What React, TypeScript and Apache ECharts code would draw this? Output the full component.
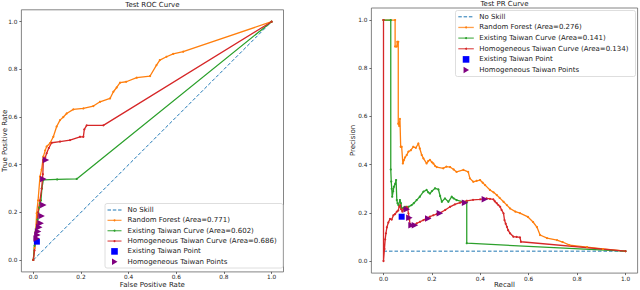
import React, { useEffect, useRef } from 'react';
import * as echarts from 'echarts';

const FONT = 'DejaVu Sans';

const tickValues = [0, 0.2, 0.4, 0.6, 0.8, 1.0];
const rocTitle = 'Test ROC Curve';
const prTitle = 'Test PR Curve';
const rocAxisNames = ['False Positive Rate', 'True Positive Rate'];
const prAxisNames = ['Recall', 'Precision'];

const rocLegendLabels = [
  'No Skill',
  'Random Forest (Area=0.771)',
  'Existing Taiwan Curve (Area=0.602)',
  'Homogeneous Taiwan Curve (Area=0.686)',
  'Existing Taiwan Point',
  'Homogeneous Taiwan Points',
];
const prLegendLabels = [
  'No Skill',
  'Random Forest (Area=0.276)',
  'Existing Taiwan Curve (Area=0.141)',
  'Homogeneous Taiwan Curve (Area=0.134)',
  'Existing Taiwan Point',
  'Homogeneous Taiwan Points',
];

// ROC data: [false positive rate, true positive rate]
const rocNoSkill = [[0, 0], [1, 1]];
const rocRandomForest = [
  [0, 0], [0.005, 0.05], [0.01, 0.12], [0.014, 0.196], [0.02, 0.25], [0.028, 0.35], [0.035, 0.38],
  [0.042, 0.434], [0.05, 0.46], [0.056, 0.476], [0.07, 0.49], [0.084, 0.517], [0.098, 0.56],
  [0.112, 0.587], [0.126, 0.6], [0.14, 0.615], [0.168, 0.632], [0.21, 0.636], [0.252, 0.646],
  [0.28, 0.664], [0.322, 0.678], [0.336, 0.706], [0.35, 0.724], [0.364, 0.744], [0.39, 0.748],
  [0.434, 0.765], [0.49, 0.772], [0.517, 0.818], [0.531, 0.839], [0.559, 0.853], [0.587, 0.865],
  [0.629, 0.874], [1, 1],
];
const rocExistingCurve = [
  [0, 0], [0.005, 0.06], [0.01, 0.12], [0.018, 0.17], [0.021, 0.2], [0.025, 0.22], [0.028, 0.238],
  [0.032, 0.25], [0.036, 0.3], [0.042, 0.336], [0.1, 0.338], [0.182, 0.34], [1, 1],
];
const rocHomogeneousCurve = [
  [0, 0], [0.005, 0.04], [0.01, 0.1], [0.015, 0.15], [0.02, 0.2], [0.028, 0.25], [0.035, 0.3],
  [0.04, 0.36], [0.042, 0.42], [0.05, 0.43], [0.056, 0.448], [0.065, 0.47], [0.077, 0.492],
  [0.112, 0.497], [0.154, 0.503], [0.196, 0.517], [0.21, 0.517], [0.214, 0.548], [0.224, 0.565],
  [0.294, 0.565], [1, 1],
];
const rocExistingPoint = [[0.015, 0.077]];
const rocHomogeneousPoints = [
  [0.053, 0.42], [0.042, 0.34], [0.042, 0.231], [0.035, 0.185], [0.031, 0.154], [0.025, 0.137],
  [0.02, 0.12], [0.017, 0.105], [0.014, 0.09],
];

// PR data: [recall, precision]
const prNoSkill = [[0, 0.041], [1, 0.041]];
const prRandomForest = [
  [0, 1], [0.048, 1], [0.048, 0.89], [0.055, 0.89], [0.057, 0.91], [0.061, 0.91], [0.061, 0.57],
  [0.065, 0.56], [0.068, 0.59], [0.071, 0.474], [0.075, 0.474], [0.08, 0.405], [0.085, 0.42],
  [0.089, 0.43], [0.096, 0.44], [0.103, 0.454], [0.113, 0.46], [0.123, 0.474], [0.134, 0.47],
  [0.144, 0.488], [0.15, 0.467], [0.158, 0.44], [0.165, 0.426], [0.178, 0.405], [0.185, 0.415],
  [0.192, 0.42], [0.2, 0.41], [0.206, 0.405], [0.213, 0.395], [0.22, 0.39], [0.247, 0.385],
  [0.26, 0.392], [0.275, 0.39], [0.29, 0.38], [0.302, 0.37], [0.33, 0.378], [0.35, 0.37],
  [0.357, 0.343], [0.371, 0.329], [0.385, 0.333], [0.399, 0.336], [0.41, 0.325], [0.42, 0.315],
  [0.44, 0.295], [0.455, 0.285], [0.468, 0.274], [0.48, 0.262], [0.496, 0.246], [0.51, 0.232],
  [0.523, 0.218], [0.545, 0.205], [0.564, 0.199], [0.597, 0.183], [0.618, 0.162], [0.634, 0.141],
  [0.647, 0.108], [0.676, 0.095], [0.717, 0.087], [0.74, 0.079], [0.769, 0.066], [0.841, 0.058],
  [0.907, 0.05], [1, 0.041],
];
const prExistingCurve = [
  [0, 1], [0.03, 1], [0.03, 0.38], [0.032, 0.33], [0.034, 0.3], [0.036, 0.267], [0.04, 0.29],
  [0.043, 0.308], [0.048, 0.32], [0.052, 0.336], [0.055, 0.253], [0.058, 0.24], [0.062, 0.232],
  [0.068, 0.253], [0.072, 0.24], [0.075, 0.219], [0.082, 0.22], [0.089, 0.225], [0.096, 0.215],
  [0.103, 0.225], [0.116, 0.232], [0.125, 0.24], [0.137, 0.253], [0.15, 0.267], [0.165, 0.288],
  [0.178, 0.295], [0.185, 0.285], [0.192, 0.28], [0.2, 0.29], [0.213, 0.302], [0.227, 0.297],
  [0.234, 0.27], [0.241, 0.246], [0.254, 0.26], [0.268, 0.246], [0.282, 0.267], [0.29, 0.26],
  [0.302, 0.253], [0.33, 0.246], [0.344, 0.246], [0.344, 0.074], [1, 0.041],
];
const prHomogeneousCurve = [
  [0, 1], [0, 0], [0.004, 0.05], [0.007, 0.09], [0.01, 0.115], [0.014, 0.14], [0.02, 0.16],
  [0.027, 0.175], [0.034, 0.172], [0.041, 0.19], [0.048, 0.195], [0.055, 0.205], [0.061, 0.21],
  [0.065, 0.225], [0.069, 0.232], [0.073, 0.215], [0.078, 0.205], [0.082, 0.215], [0.089, 0.212],
  [0.096, 0.225], [0.1, 0.218], [0.103, 0.198], [0.107, 0.172], [0.11, 0.152], [0.116, 0.147],
  [0.125, 0.148], [0.137, 0.156], [0.151, 0.163], [0.165, 0.17], [0.178, 0.177], [0.192, 0.184],
  [0.206, 0.19], [0.22, 0.195], [0.234, 0.2], [0.255, 0.212], [0.275, 0.225], [0.295, 0.235],
  [0.316, 0.242], [0.33, 0.247], [0.344, 0.25], [0.37, 0.254], [0.399, 0.256], [0.426, 0.26],
  [0.44, 0.258], [0.454, 0.256], [0.46, 0.248], [0.468, 0.24], [0.475, 0.232], [0.482, 0.225],
  [0.488, 0.212], [0.496, 0.198], [0.5, 0.17], [0.505, 0.155], [0.51, 0.142], [0.515, 0.128],
  [0.523, 0.115], [0.537, 0.101], [0.55, 0.1], [0.564, 0.098], [0.568, 0.08], [1, 0.041],
];
const prExistingPoint = [[0.075, 0.184]];
const prHomogeneousPoints = [
  [0.096, 0.215], [0.107, 0.18], [0.116, 0.149], [0.13, 0.149], [0.185, 0.177], [0.233, 0.198],
  [0.337, 0.242], [0.419, 0.256],
];

const COLORS = ['#1f77b4', '#ff7f0e', '#2ca02c', '#d62728', '#0000ff', '#800080'];
const TRI = 'path://M0,0L8.7,5L0,10Z';

function makeAxis(kind: 'x' | 'y', gridIndex: number) {
  return {
    type: 'value',
    gridIndex,
    min: -0.05,
    max: 1.05,
    axisLine: { show: false, onZero: false },
    axisTick: {
      show: true,
      inside: false,
      length: 2,
      customValues: tickValues,
      lineStyle: { color: '#444', width: 0.8 },
    },
    axisLabel: {
      show: true,
      customValues: tickValues,
      formatter: (v: number) => v.toFixed(1),
      fontSize: 5.8,
      fontFamily: FONT,
      color: '#222',
      margin: kind === 'y' ? 4 : 2.5,
      hideOverlap: false,
    },
    splitLine: { show: false },
  };
}

function lineSeries(name: string, data: number[][], idx: number, color: string, dashed = false) {
  return {
    type: 'line',
    name,
    xAxisIndex: idx,
    yAxisIndex: idx,
    data,
    symbol: dashed ? 'none' : 'circle',
    symbolSize: 2.2,
    showSymbol: !dashed,
    lineStyle: { color, width: dashed ? 1 : 1.3, type: dashed ? [3.5, 2] : 'solid' },
    itemStyle: { color },
    silent: true,
    z: 2,
  };
}

function scatterSeries(name: string, data: number[][], idx: number, color: string, symbol: string, size: number) {
  return {
    type: 'scatter',
    name,
    xAxisIndex: idx,
    yAxisIndex: idx,
    data,
    symbol,
    symbolSize: size,
    itemStyle: { color, opacity: 1 },
    silent: true,
    z: 3,
  };
}

function textEl(text: string, x: number, y: number, rotation = 0) {
  return {
    type: 'text', x, y, rotation, z: 100,
    style: { text, fontSize: 7, fontFamily: FONT, fill: '#222', align: 'center', verticalAlign: 'middle' },
  };
}

function makeLegend(bx: number, by: number, bw: number, bh: number, labels: string[], row0: number, pitch: number, hx: number, hw: number, tx: number) {
  const els: any[] = [];
  els.push({
    type: 'rect',
    z: 100,
    shape: { x: bx, y: by, width: bw, height: bh, r: 2 },
    style: { fill: 'rgba(255,255,255,0.85)', stroke: '#d6d6d6', lineWidth: 0.8 },
  });
  labels.forEach((label, i) => {
    const cy = row0 + i * pitch;
    const color = COLORS[i];
    const cx = hx + hw / 2;
    if (i === 0) {
      els.push({
        type: 'line', z: 101,
        shape: { x1: hx, y1: cy, x2: hx + hw, y2: cy },
        style: { stroke: color, lineWidth: 1, lineDash: [3.5, 1.8] },
      });
    } else if (i <= 3) {
      els.push({
        type: 'line', z: 101,
        shape: { x1: hx, y1: cy, x2: hx + hw, y2: cy },
        style: { stroke: color, lineWidth: 1.3, opacity: 0.75 },
      });
      els.push({
        type: 'circle', z: 102,
        shape: { cx, cy, r: 1 },
        style: { fill: color },
      });
    } else if (i === 4) {
      els.push({
        type: 'rect', z: 101,
        shape: { x: cx - 3.3, y: cy - 3.3, width: 6.6, height: 6.6 },
        style: { fill: color },
      });
    } else {
      els.push({
        type: 'polygon', z: 101,
        shape: { points: [[cx - 2.5, cy - 3.2], [cx + 3, cy], [cx - 2.5, cy + 3.2]] },
        style: { fill: color },
      });
    }
    els.push({
      type: 'text', z: 102,
      x: tx, y: cy,
      style: { text: label, fontSize: 7, fontFamily: FONT, fill: '#222', align: 'left', verticalAlign: 'middle' },
    });
  });
  return els;
}

export default function App() {
  const ref = useRef<HTMLDivElement>(null);
  useEffect(() => {
    if (!ref.current) return;
    const chart = echarts.init(ref.current, null, { renderer: 'svg' });
    const grids = [
      { left: 21.4, top: 9.8, width: 262.1, height: 262.1 },
      { left: 371.4, top: 8, width: 266.2, height: 265.1 },
    ].map((g) => ({
      ...g,
      show: true,
      borderColor: '#666',
      borderWidth: 0.8,
      backgroundColor: '#fff',
      containLabel: false,
      outerBoundsMode: 'none',
    }));

    const option: any = {
      animation: false,
      backgroundColor: '#fff',
      textStyle: { fontFamily: FONT },
      grid: grids,
      xAxis: [makeAxis('x', 0), makeAxis('x', 1)],
      yAxis: [makeAxis('y', 0), makeAxis('y', 1)],
      series: [
        lineSeries(rocLegendLabels[0], rocNoSkill, 0, COLORS[0], true),
        lineSeries(rocLegendLabels[1], rocRandomForest, 0, COLORS[1]),
        lineSeries(rocLegendLabels[2], rocExistingCurve, 0, COLORS[2]),
        lineSeries(rocLegendLabels[3], rocHomogeneousCurve, 0, COLORS[3]),
        scatterSeries(rocLegendLabels[4], rocExistingPoint, 0, COLORS[4], 'rect', 6),
        scatterSeries(rocLegendLabels[5], rocHomogeneousPoints, 0, COLORS[5], TRI, 6.5),
        lineSeries(prLegendLabels[0], prNoSkill, 1, COLORS[0], true),
        lineSeries(prLegendLabels[1], prRandomForest, 1, COLORS[1]),
        lineSeries(prLegendLabels[2], prExistingCurve, 1, COLORS[2]),
        lineSeries(prLegendLabels[3], prHomogeneousCurve, 1, COLORS[3]),
        scatterSeries(prLegendLabels[4], prExistingPoint, 1, COLORS[4], 'rect', 6),
        scatterSeries(prLegendLabels[5], prHomogeneousPoints, 1, COLORS[5], TRI, 6.5),
      ],
      graphic: [
        textEl(rocTitle, 152.4, 5),
        textEl(prTitle, 504.5, 4),
        textEl(rocAxisNames[0], 152.4, 284.5),
        textEl(prAxisNames[0], 504.5, 285.3),
        textEl(rocAxisNames[1], 5.2, 140.9, Math.PI / 2),
        textEl(prAxisNames[1], 353, 140.5, Math.PI / 2),
        ...makeLegend(105, 203.5, 178, 64.5, rocLegendLabels, 210, 10.35, 107.5, 14, 127.5),
        ...makeLegend(455.5, 10.5, 180, 66, prLegendLabels, 16.8, 10.65, 458.3, 15.5, 479.3),
      ],
    };
    chart.setOption(option);
    return () => chart.dispose();
  }, []);
  return <div ref={ref} style={{ position: 'fixed', left: 0, top: 0, width: 640, height: 290 }} />;
}
